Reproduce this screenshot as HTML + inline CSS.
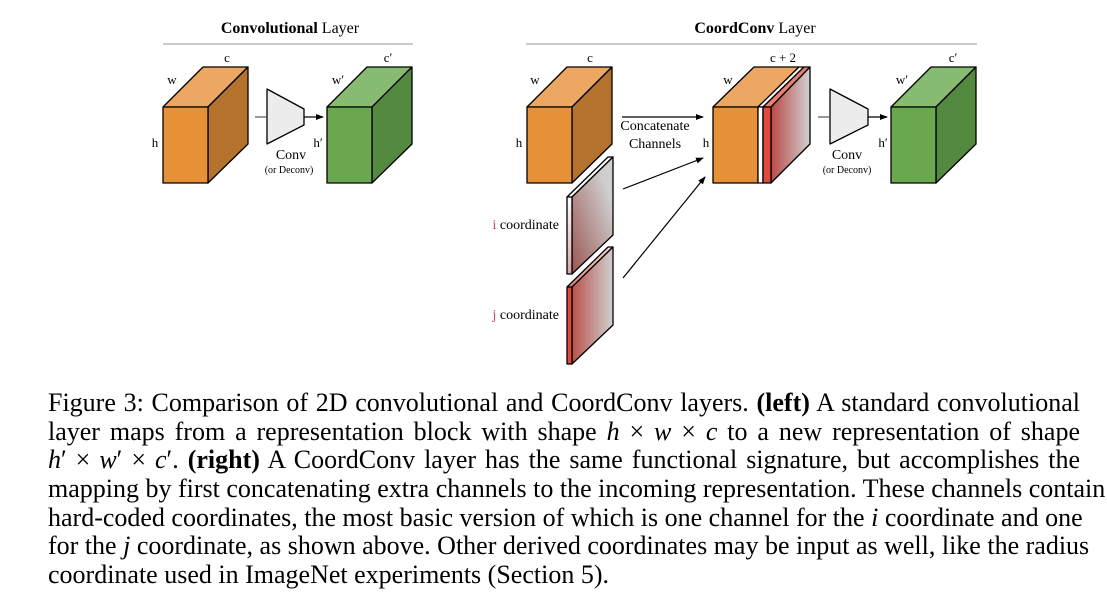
<!DOCTYPE html>
<html><head><meta charset="utf-8"><style>
body{margin:0;background:#fff;width:1107px;height:603px;overflow:hidden;position:relative;font-family:"Liberation Serif",serif}
svg{position:absolute;left:0;top:0}
.cap{position:absolute;left:48px;width:1032px;font-size:26px;line-height:28.7px;color:#000;top:389px}
.cap div{text-align:justify;text-align-last:justify;white-space:nowrap;height:28.7px}
.cap div.last{text-align-last:left}
</style></head><body>
<svg width="1107" height="380" viewBox="0 0 1107 380" font-family="Liberation Serif, serif">
<defs>
<linearGradient id="g1" x1="0" y1="0" x2="1" y2="0"><stop offset="0" stop-color="#b94a45"/><stop offset="1" stop-color="#d0d0d0"/></linearGradient>
<linearGradient id="gi" x1="1" y1="0" x2="0" y2="1"><stop offset="0.2" stop-color="#cfcfcf"/><stop offset="1" stop-color="#9a5651"/></linearGradient>
<linearGradient id="gif" x1="0" y1="0" x2="0" y2="1"><stop offset="0" stop-color="#fff"/><stop offset="1" stop-color="#d7a8a5"/></linearGradient>
<linearGradient id="gj" x1="0" y1="0" x2="1" y2="0"><stop offset="0" stop-color="#b9524b"/><stop offset="1" stop-color="#d0d0d0"/></linearGradient>
<linearGradient id="gjt" x1="0" y1="1" x2="1" y2="0"><stop offset="0" stop-color="#e88070"/><stop offset="1" stop-color="#f6d6d0"/></linearGradient>
<marker id="ar" markerWidth="8" markerHeight="8" refX="7" refY="3" orient="auto" markerUnits="userSpaceOnUse"><path d="M0,0 L8,3 L0,6 z" fill="#000"/></marker>
</defs>
<g stroke="#000" stroke-width="1.3" stroke-linejoin="round">
<polygon points="163,107 203,67 248,67 208,107" fill="#eca862"/>
<polygon points="208,107 248,67 248,144 208,183" fill="#b5722c"/>
<rect x="163" y="107" width="45" height="76" fill="#e69138"/>
<polygon points="267,89 304,109 304,125 267,144" fill="#ececec"/>
<polygon points="327,107 367,67 412,67 372,107" fill="#88bb72"/>
<polygon points="372,107 412,67 412,144 372,183" fill="#548a3f"/>
<rect x="327" y="107" width="45" height="76" fill="#6aa84f"/>
<polygon points="527,107 567,67 612,67 572,107" fill="#eca862"/>
<polygon points="572,107 612,67 612,144 572,183" fill="#b5722c"/>
<rect x="527" y="107" width="45" height="76" fill="#e69138"/>
<polygon points="713,107 754,67 799,67 758,107" fill="#eca862"/>
<polygon points="758,107 799,67 804,67 763,107" fill="#fff"/>
<polygon points="763,107 804,67 810,67 771,107" fill="#e8806f"/>
<polygon points="771,107 810,67 810,144 771,183" fill="url(#g1)"/>
<rect x="713" y="107" width="45" height="76" fill="#e69138"/>
<rect x="758" y="107" width="5" height="76" fill="#fff"/>
<rect x="763" y="107" width="8" height="76" fill="#dd4b3c"/>
<polygon points="830,89 868,109 868,125 830,144" fill="#ececec"/>
<polygon points="891,107 931,67 976,67 936,107" fill="#88bb72"/>
<polygon points="936,107 976,67 976,144 936,183" fill="#548a3f"/>
<rect x="891" y="107" width="45" height="76" fill="#6aa84f"/>
<polygon points="567,197 608,157 613,157 572,197" fill="#fff"/>
<polygon points="572,197 613,157 613,235 572,274" fill="url(#gi)"/>
<rect x="567" y="197" width="5" height="77" fill="url(#gif)"/>
<polygon points="567,287 608,247 613,247 572,287" fill="url(#gjt)"/>
<polygon points="572,287 613,247 613,325 572,364" fill="url(#gj)"/>
<rect x="567" y="287" width="5" height="77" fill="#dd4b3c"/>
</g>
<g stroke="#000" stroke-width="1.2" fill="none">
<line x1="255" y1="117" x2="267" y2="117" stroke="#555"/>
<line x1="304" y1="117" x2="323" y2="117" marker-end="url(#ar)"/>
<line x1="818" y1="117" x2="830" y2="117" stroke="#555"/>
<line x1="868" y1="117" x2="887" y2="117" marker-end="url(#ar)"/>
<line x1="622" y1="117" x2="703" y2="117" marker-end="url(#ar)"/>
<line x1="623" y1="189" x2="703" y2="158" marker-end="url(#ar)"/>
<line x1="623" y1="278" x2="705" y2="177" marker-end="url(#ar)"/>
</g>
<line x1="163" y1="44" x2="413" y2="44" stroke="#bbb" stroke-width="1.5"/>
<line x1="526" y1="44" x2="977" y2="44" stroke="#bbb" stroke-width="1.5"/>
<g font-size="16" text-anchor="middle" fill="#000">
<text x="290" y="33"><tspan font-weight="bold">Convolutional</tspan> Layer</text>
<text x="755" y="33"><tspan font-weight="bold">CoordConv</tspan> Layer</text>
</g>
<g font-size="13" text-anchor="middle" fill="#000">
<text x="227" y="62">c</text><text x="172" y="84">w</text><text x="155" y="147">h</text>
<text x="388" y="62">c′</text><text x="338" y="84">w′</text><text x="318" y="147">h′</text>
<text x="291" y="159" font-size="14">Conv</text><text x="289" y="173" font-size="10">(or Deconv)</text>
<text x="590" y="62">c</text><text x="535" y="84">w</text><text x="519" y="147">h</text>
<text x="783" y="62">c + 2</text><text x="728" y="84">w</text><text x="706" y="147">h</text>
<text x="953" y="62">c′</text><text x="902" y="84">w′</text><text x="883" y="147">h′</text>
<text x="847" y="159" font-size="14">Conv</text><text x="847" y="173" font-size="10">(or Deconv)</text>
<text x="655" y="130" font-size="14">Concatenate</text><text x="655" y="148" font-size="14">Channels</text>
</g>
<g font-size="14" text-anchor="end">
<text x="559" y="229"><tspan fill="#c0504d">i</tspan> coordinate</text>
<text x="559" y="319"><tspan fill="#c0504d">j</tspan> coordinate</text>
</g>
</svg>
<div class="cap">
<div>Figure 3: Comparison of 2D convolutional and CoordConv layers. <b>(left)</b> A standard convolutional</div>
<div>layer maps from a representation block with shape <i>h</i> × <i>w</i> × <i>c</i> to a new representation of shape</div>
<div><i>h</i>′ × <i>w</i>′ × <i>c</i>′. <b>(right)</b> A CoordConv layer has the same functional signature, but accomplishes the</div>
<div>mapping by first concatenating extra channels to the incoming representation. These channels contain</div>
<div>hard-coded coordinates, the most basic version of which is one channel for the <i>i</i> coordinate and one</div>
<div>for the <i>j</i> coordinate, as shown above. Other derived coordinates may be input as well, like the radius</div>
<div class="last">coordinate used in ImageNet experiments (Section 5).</div>
</div>
</body></html>
